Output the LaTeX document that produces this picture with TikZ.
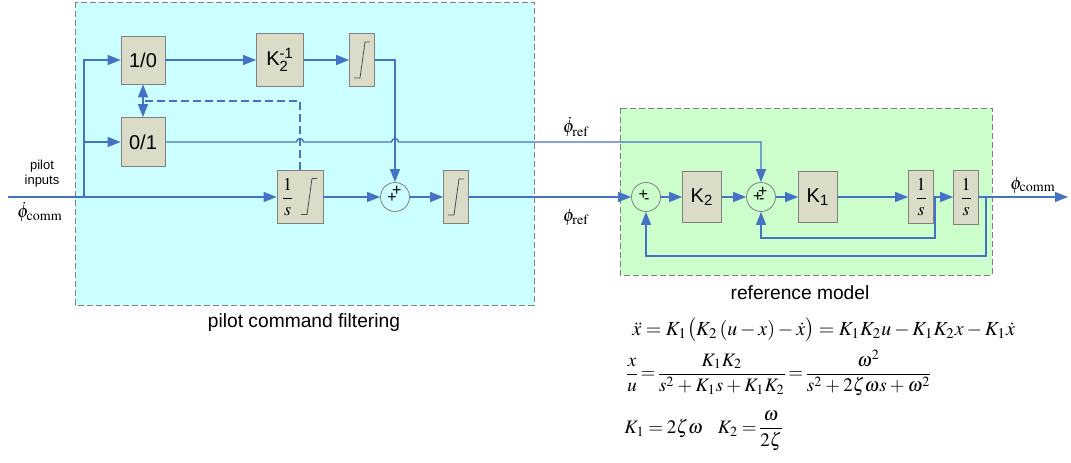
\documentclass[tikz,border=0pt]{standalone}
\usepackage{amsmath}
\usepackage{mathptmx}
\usepackage{fontspec}
\setmainfont{Liberation Serif}
\setsansfont{Liberation Sans}
\usetikzlibrary{arrows.meta}

\definecolor{sigblue}{RGB}{68,114,196}
\definecolor{blockfill}{RGB}{218,220,200}
\definecolor{blockedge}{RGB}{128,128,128}
\definecolor{pilotbg}{RGB}{204,255,255}
\definecolor{refbg}{RGB}{204,255,204}

\tikzset{
  block/.style={draw=blockedge, fill=blockfill, inner sep=0pt, font=\sffamily\fontsize{10}{12}\selectfont},
  intblock/.style={block, font=\fontsize{9}{10}\selectfont},
  fractext/.style={inner sep=0pt, font=\fontsize{9}{10}\selectfont},
  sumnode/.style={circle, draw=blockedge, line width=0.4pt, minimum size=14.5pt, inner sep=0pt},
  sign/.style={inner sep=0pt, font=\sffamily\fontsize{8}{8}\selectfont},
  sig/.style={draw=sigblue, line width=0.7pt},
  arr/.style={-{Triangle[length=6.5pt,width=5pt]}},
  dashsig/.style={sig, dash pattern=on 4pt off 2pt},
  areabox/.style={draw=blockedge, line width=0.4pt, dash pattern=on 3pt off 1.5pt},
  satline/.style={draw=black!70, line width=0.4pt},
  siglabel/.style={font=\fontsize{9}{10}\selectfont, inner sep=0pt},
  areaname/.style={font=\sffamily\fontsize{9.6}{11}\selectfont},
  eqn/.style={font=\fontsize{10}{12}\selectfont, inner sep=0pt},
  smalleqn/.style={eqn, font=\fontsize{9.5}{11}\selectfont},
}

% saturation curve inside a block
\newcommand{\satsymbol}[2]{\draw[satline] ([shift={#2}]#1) -- ++(6,0) -- ++(5,-36) -- ++(5,0);}
% math spacing for the fraction lines
\newcommand{\tightspacing}{\nulldelimiterspace=0pt\relax\thickmuskip=3.5mu\relax\medmuskip=3mu\relax}

\begin{document}
\begin{tikzpicture}[x=0.5pt,y=-0.5pt]
        \useasboundingbox (0,0) rectangle (1071,462);

        % Areas
        \draw[areabox, fill=pilotbg] (75,2) rectangle (534,305);
        \draw[areabox, fill=refbg] (620,108) rectangle (992,275);
        \node[areaname] (PilotName) at (304,323) {pilot command filtering};
        \node[areaname] (RefName) at (800,293) {reference model};

        % Nodes
        \node[block, minimum width=22pt, minimum height=24pt] (OneZero) at (143,60) {1/0};
        \node[block, minimum width=23.5pt, minimum height=26.5pt] (KTwoInv) at (280,60) {K$_{\textsf{2}}^{\textsf{-1}}$};
        \node[block, minimum width=12.5pt, minimum height=26.5pt] (SatA) at (362,60) {};
        \node[block, minimum width=22pt, minimum height=24.5pt] (ZeroOne) at (143,142) {0/1};
        \node[block, minimum width=23pt, minimum height=26.5pt] (IntSat) at (300,197) {};
        \node[fractext] (IntSatFrac) at (287.5,197) {$\dfrac{1}{s}$};
        \node[sumnode] (SumA) at (395,197) {};
        \node[block, minimum width=12.5pt, minimum height=26.5pt] (SatB) at (456,197) {};

        \node[sumnode] (SumB) at (646,197) {};
        \node[block, minimum width=19.5pt, minimum height=25.5pt] (KTwo) at (702,197) {K$_{\textsf{2}}$};
        \node[sumnode] (SumC) at (761,197) {};
        \node[block, minimum width=19.5pt, minimum height=25.5pt] (KOne) at (818,197) {K$_{\textsf{1}}$};
        \node[intblock, minimum width=12.5pt, minimum height=26.5pt] (IntA) at (921,197) {$\dfrac{1}{s}$};
        \node[intblock, minimum width=12.5pt, minimum height=27pt] (IntB) at (966,197) {$\dfrac{1}{s}$};

        \satsymbol{SatA.center}{(-8,18)}
        \satsymbol{SatB.center}{(-8,18)}
        \satsymbol{IntSat.center}{(1,17.5)}

        % Signs
        \node[sign] at ([shift={(1.7,-6)}]SumA.center) {+};
        \node[sign] at ([shift={(-3,1)}]SumA.center) {+};
        \node[sign] at ([shift={(-2.7,-1.7)}]SumB.center) {+};
        \node[sign] at ([shift={(0.7,4.5)}]SumB.center) {-};
        \node[sign] at ([shift={(1.7,-4.7)}]SumC.center) {+};
        \node[sign] at ([shift={(-3.3,0.3)}]SumC.center) {+};
        \node[sign] at ([shift={(0.7,4.5)}]SumC.center) {-};

        % Labels
        \node[font=\sffamily\fontsize{6.5}{7.5}\selectfont, align=center, inner sep=0pt] (PilotIn) at (42,174) {pilot\\inputs};
        \node[siglabel] (PhiCommDot) at (40,212) {$\dot{\phi}_{\mathrm{comm}}$};
        \node[siglabel] (PhiRefDot) at (576,127) {$\dot{\phi}_{\mathrm{ref}}$};
        \node[siglabel] (PhiRef) at (576,217) {$\phi_{\mathrm{ref}}$};
        \node[siglabel] (PhiComm) at (1033,185) {$\phi_{\mathrm{comm}}$};

        % Equations
        \node[eqn, anchor=west] (EqA) at (632,330)
            {$\ddot{x}=K_1\bigl(K_2\left(u-x\right)-\dot{x}\bigr)=K_1K_2u-K_1K_2x-K_1\dot{x}$};
        \node[smalleqn, anchor=west] (EqB) at (627,373)
            {\tightspacing$\dfrac{x}{u}=\dfrac{K_1K_2}{s^2+K_1s+K_1K_2}=\dfrac{\omega^2}{s^2+2\zeta\omega s+\omega^2}$};
        \node[smalleqn, anchor=west] (EqC) at (624,431)
            {\tightspacing$K_1=2\zeta\omega\hspace{0.8em}K_2=\dfrac{\omega}{2\zeta}$};

        % Coordinates
        \coordinate (In) at (8,197);
        \coordinate (Branch) at (84,197);
        \coordinate (DashJoin) at (143,101);
        \coordinate (HopA) at (IntSat.north |- ZeroOne.east);
        \coordinate (HopB) at (SumA.north |- ZeroOne.east);
        \coordinate (TapA) at (935,197);
        \coordinate (TapB) at (986,197);
        \coordinate (FbA) at (935,238);
        \coordinate (FbB) at (986,256);
        \coordinate (Out) at (1068,197);

        % Arrows
        \draw[sig, arr] (In) -- (IntSat.west);
        \draw[sig, arr] (Branch) |- (OneZero.west);
        \draw[sig, arr] (Branch) |- (ZeroOne.west);
        \draw[sig, arr] (OneZero) -- (KTwoInv);
        \draw[sig, arr] (KTwoInv) -- (SatA);
        \draw[sig, arr] (SatA.east) -| (SumA.north);
        \draw[sig, arr] (IntSat) -- (SumA);
        \draw[sig, arr] (SumA) -- (SatB);
        \draw[sig, arr] (SatB) -- (SumB);
        \draw[sig, arr] (ZeroOne.east) -- ([xshift=-1.75pt]HopA) arc[start angle=180, end angle=0, radius=1.75pt]
            -- ([xshift=-1.75pt]HopB) arc[start angle=180, end angle=0, radius=1.75pt] -| (SumC.north);
        \draw[dashsig] (IntSat.north) |- (DashJoin);
        \draw[dashsig, {Triangle[length=6.5pt,width=5pt]}-{Triangle[length=6.5pt,width=5pt]}] (OneZero.south) -- (ZeroOne.north);

        \draw[sig, arr] (SumB) -- (KTwo);
        \draw[sig, arr] (KTwo) -- (SumC);
        \draw[sig, arr] (SumC) -- (KOne);
        \draw[sig, arr] (KOne) -- (IntA);
        \draw[sig, arr] (IntA) -- (IntB);
        \draw[sig, arr] (IntB) -- (Out);
        \draw[sig, arr] (TapA) -- (FbA) -| (SumC.south);
        \draw[sig, arr] (TapB) -- (FbB) -| (SumB.south);
    \end{tikzpicture}
\end{document}
